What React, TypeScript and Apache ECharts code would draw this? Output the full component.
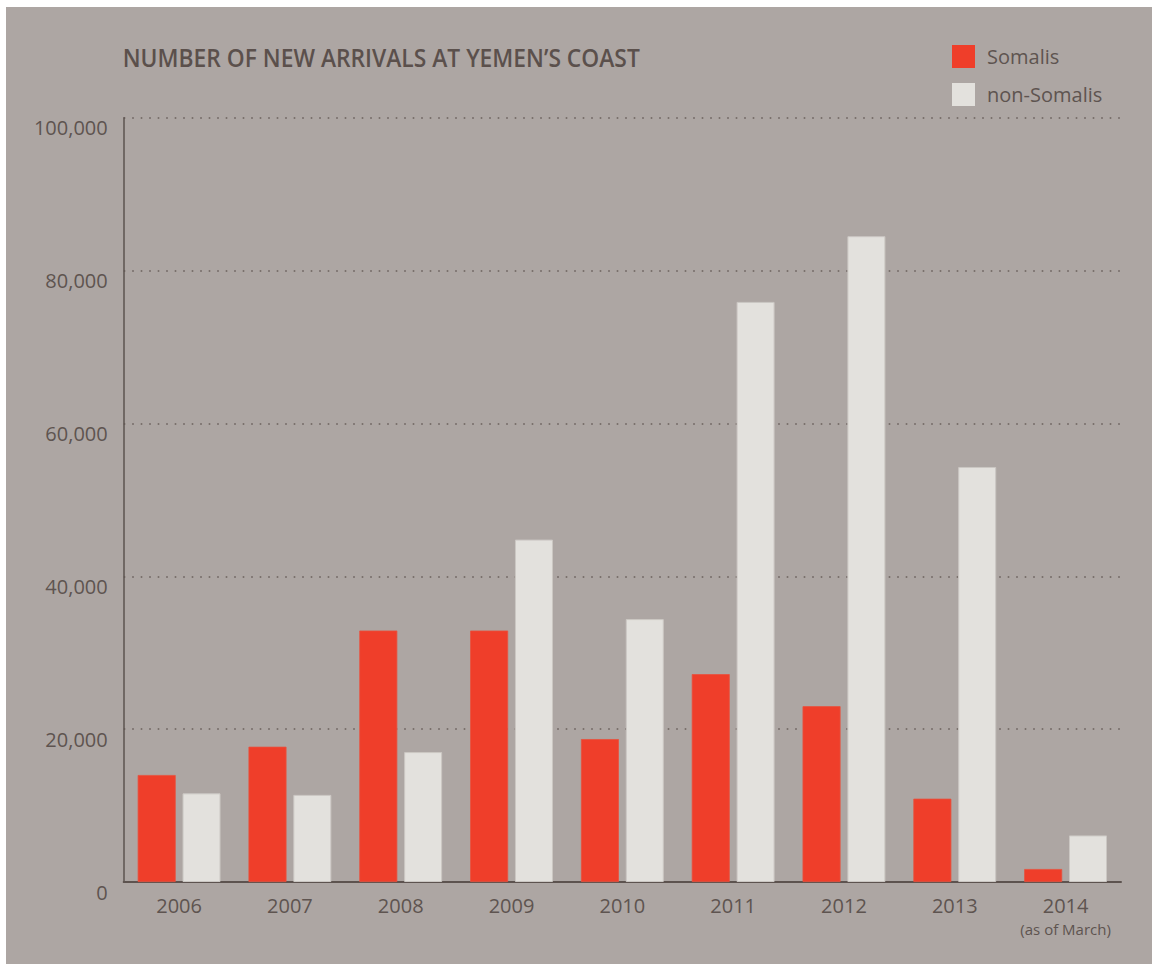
import React, { useEffect, useRef } from "react";
import * as echarts from "echarts";

const years = ["2006", "2007", "2008", "2009", "2010", "2011", "2012", "2013", "2014"];
const somalis = [14000, 17700, 32900, 32900, 18700, 27200, 23000, 10900, 1700];
const nonSomalis = [11600, 11400, 17000, 44800, 34400, 75900, 84500, 54300, 6100];
const yTicks = [0, 20000, 40000, 60000, 80000, 100000];
const titleText = "NUMBER OF NEW ARRIVALS AT YEMEN’S COAST";
const lastNote = "(as of March)";

const BG = "#ada6a3";
const RED = "#ef3e2a";
const LIGHT = "#e3e1dd";
const TEXT = "#5e5450";
const FONT = "'Open Sans', 'Noto Sans', sans-serif";

export default function App() {
  const ref = useRef<HTMLDivElement>(null);
  useEffect(() => {
    if (!ref.current) return;
    const chart = echarts.init(ref.current, null, { renderer: "svg" });
    chart.setOption({
      animation: false,
      backgroundColor: BG,
      textStyle: { fontFamily: FONT },
      graphic: [
        {
          type: "text",
          x: 116.7,
          y: 50.4,
          scaleX: 0.913,
          style: {
            text: titleText,
            fontFamily: FONT,
            fontSize: 25,
            fontWeight: 600,
            fill: "#5b504c",
            align: "left",
            verticalAlign: "middle",
          },
        },
      ],
      legend: {
        orient: "vertical",
        left: 941,
        top: 33,
        itemWidth: 23,
        itemHeight: 23,
        itemGap: 15,
        icon: "rect",
        data: ["Somalis", "non-Somalis"],
        textStyle: { fontSize: 20, color: TEXT, fontFamily: FONT, padding: [0, 0, 0, 7] },
        itemStyle: { borderWidth: 0 },
      },
      grid: { left: 117.7, right: 31, top: 110.7, bottom: 82, containLabel: false },
      xAxis: {
        type: "category",
        data: years,
        axisLine: { lineStyle: { color: "#5d534f", width: 2 } },
        axisTick: { show: false },
        axisLabel: {
          fontSize: 20,
          color: TEXT,
          margin: 12,
          interval: 0,
          formatter: (v: string, i: number) =>
            i === years.length - 1 ? `${v}\n{s|${lastNote}}` : v,
          rich: { s: { fontSize: 15, color: TEXT, lineHeight: 26, fontFamily: FONT } },
          lineHeight: 22,
        },
      },
      yAxis: {
        type: "value",
        min: yTicks[0],
        max: yTicks[yTicks.length - 1],
        interval: yTicks[1] - yTicks[0],
        axisLine: { show: true, lineStyle: { color: "#5d534f", width: 1.5 } },
        axisTick: { show: false },
        axisLabel: {
          fontSize: 20,
          color: TEXT,
          margin: 16,
          verticalAlign: "top",
          formatter: (v: number) => v.toLocaleString("en-US"),
        },
        splitLine: {
          lineStyle: { color: "#6a605c", width: 1.6, type: [1.6, 6.9] },
        },
      },
      series: [
        {
          name: "Somalis",
          type: "bar",
          data: somalis,
          barWidth: 38,
          barGap: "18%",
          itemStyle: { color: RED, borderColor: "#e8503e", borderWidth: 0.8 },
        },
        {
          name: "non-Somalis",
          type: "bar",
          data: nonSomalis,
          barWidth: 38,
          barGap: "18%",
          itemStyle: { color: LIGHT, borderColor: "#cbc7c3", borderWidth: 1 },
        },
      ],
    });
    return () => chart.dispose();
  }, []);
  return (
    <div style={{ position: "absolute", left: 0, top: 0, width: 1152, height: 964, background: "#fff" }}>
      <div ref={ref} style={{ position: "absolute", left: 6, top: 7, width: 1146, height: 957 }} />
    </div>
  );
}
